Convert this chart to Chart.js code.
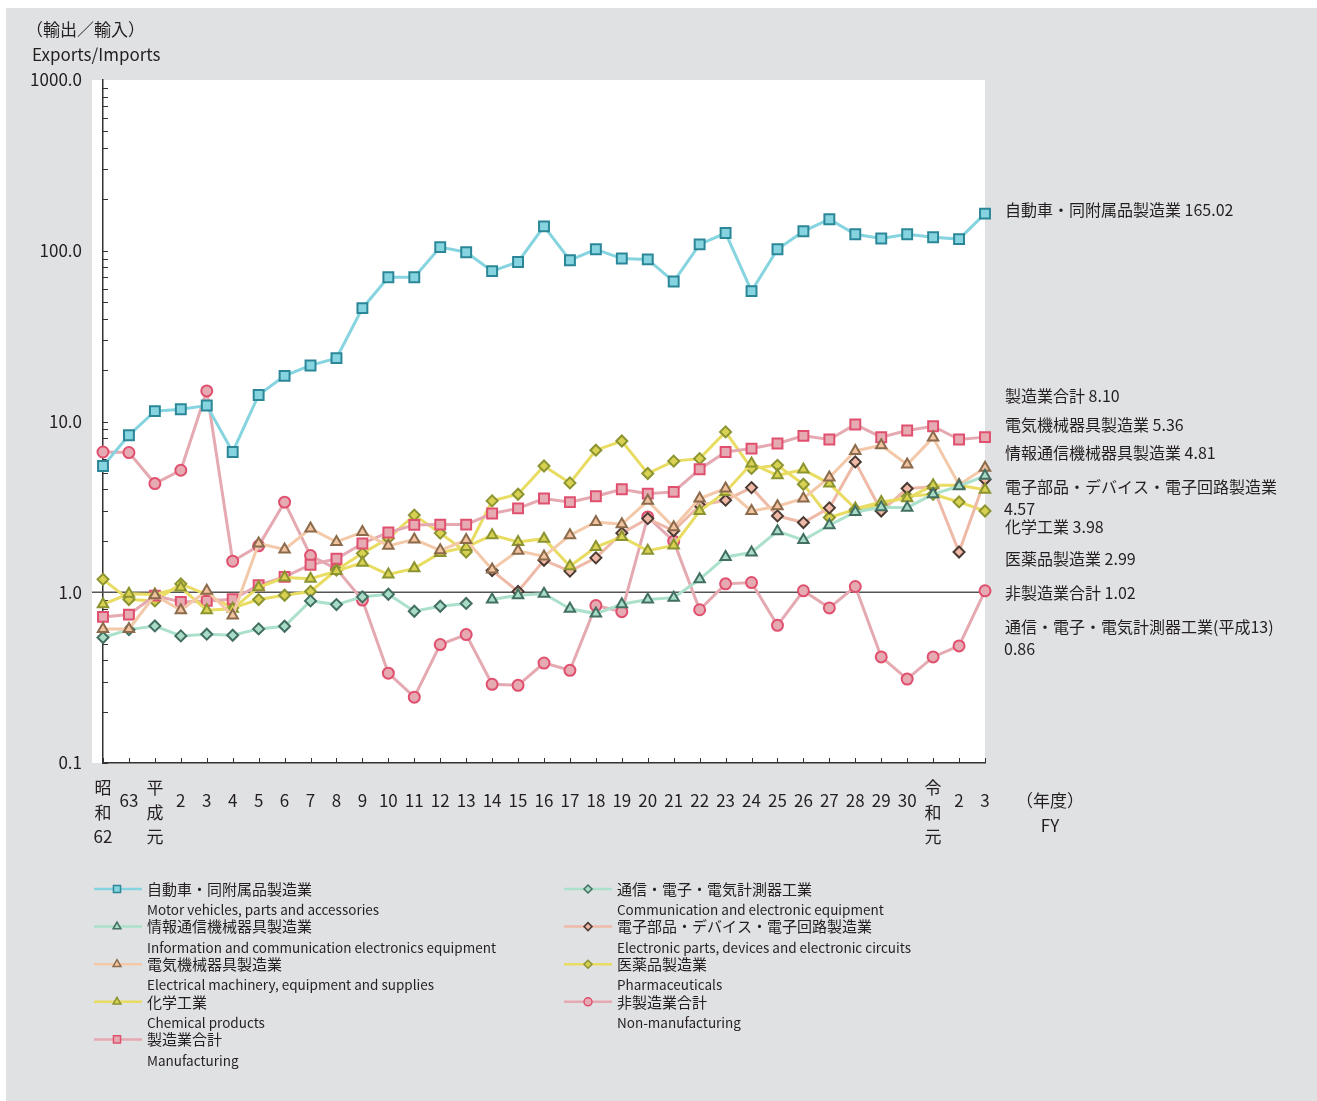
<!DOCTYPE html>
<html lang="ja">
<head>
<meta charset="utf-8">
<title>輸出／輸入 比率の推移</title>
<script src="https://cdn.jsdelivr.net/npm/chart.js@4.4.1/dist/chart.umd.min.js"></script>
<style>
  html, body { margin: 0; padding: 0; background: #fff; }
  #wrap { position: relative; width: 1317px; height: 1101px; }
  canvas { display: block; }
</style>
</head>
<body>
<div id="wrap"><canvas id="c" width="1317" height="1101"></canvas></div>
<script>
// Fiscal years: 昭和62 … 平成30, 令和元 … 令和3
const fiscalYears = [
  ['昭', '和', '62'], ['63', ''], ['平', '成', '元'],
  ['2', ''], ['3', ''], ['4', ''], ['5', ''], ['6', ''], ['7', ''], ['8', ''], ['9', ''],
  ['10', ''], ['11', ''], ['12', ''], ['13', ''], ['14', ''], ['15', ''], ['16', ''],
  ['17', ''], ['18', ''], ['19', ''], ['20', ''], ['21', ''], ['22', ''], ['23', ''],
  ['24', ''], ['25', ''], ['26', ''], ['27', ''], ['28', ''], ['29', ''], ['30', ''],
  ['令', '和', '元'], ['2', ''], ['3', '']
];

// Exports / imports ratio by industry
const motorVehicles = [5.49, 8.31, 11.5, 11.8, 12.4, 6.63, 14.3, 18.5, 21.3, 23.5, 46.1, 70, 70, 105, 98, 76, 86, 139, 88, 102, 90, 89, 66, 109, 127, 58, 102, 130, 153, 125, 118, 125, 120, 117, 165.02];
const commElectronic = [0.543, 0.604, 0.635, 0.555, 0.568, 0.56, 0.61, 0.632, 0.89, 0.847, 0.94, 0.973, 0.774, 0.828, 0.86, null, null, null, null, null, null, null, null, null, null, null, null, null, null, null, null, null, null, null, null];
const infoComm = [null, null, null, null, null, null, null, null, null, null, null, null, null, null, null, 0.906, 0.96, 0.98, 0.80, 0.75, 0.85, 0.906, 0.93, 1.19, 1.61, 1.71, 2.28, 2.02, 2.47, 2.95, 3.15, 3.13, 3.75, 4.18, 4.81];
const electricalMachinery = [0.61, 0.61, 0.96, 0.785, 1.02, 0.73, 1.93, 1.78, 2.36, 1.97, 2.25, 1.87, 2.04, 1.76, 2.02, 1.36, 1.75, 1.62, 2.16, 2.58, 2.50, 3.43, 2.40, 3.54, 4.05, 2.99, 3.19, 3.54, 4.70, 6.72, 7.26, 5.60, 8.05, 4.25, 5.36];
const electronicParts = [null, null, null, null, null, null, null, null, null, null, null, null, null, null, null, 1.34, 1.01, 1.54, 1.33, 1.59, 2.22, 2.70, 2.29, 3.23, 3.46, 4.10, 2.80, 2.56, 3.12, 5.80, 2.99, 4.05, 4.15, 1.72, 4.57];
const chemical = [0.85, 0.98, 0.97, 1.065, 0.785, 0.80, 1.07, 1.22, 1.20, 1.33, 1.49, 1.27, 1.38, 1.70, 1.84, 2.16, 1.97, 2.06, 1.42, 1.84, 2.11, 1.75, 1.88, 2.99, 3.87, 5.67, 4.84, 5.23, 4.33, 3.09, 3.38, 3.55, 4.23, 4.23, 3.98];
const pharmaceuticals = [1.19, 0.906, 0.89, 1.12, 0.97, 0.81, 0.906, 0.96, 1.01, 1.35, 1.69, 2.07, 2.83, 2.22, 1.72, 3.43, 3.75, 5.49, 4.37, 6.79, 7.69, 4.96, 5.86, 6.06, 8.69, 5.31, 5.54, 4.29, 2.74, 3.05, 3.25, 3.65, 3.75, 3.38, 2.99];
const manufacturing = [0.717, 0.74, 0.956, 0.877, 0.89, 0.91, 1.10, 1.23, 1.45, 1.57, 1.93, 2.24, 2.48, 2.49, 2.49, 2.89, 3.10, 3.54, 3.37, 3.65, 4.01, 3.78, 3.87, 5.25, 6.63, 6.94, 7.43, 8.24, 7.84, 9.60, 8.09, 8.85, 9.38, 7.84, 8.10];
const nonManufacturing = [6.63, 6.58, 4.33, 5.18, 15.1, 1.52, 1.87, 3.37, 1.64, 1.37, 0.90, 0.336, 0.243, 0.494, 0.565, 0.289, 0.285, 0.385, 0.349, 0.836, 0.77, 2.76, 1.99, 0.79, 1.12, 1.14, 0.64, 1.02, 0.81, 1.08, 0.418, 0.31, 0.418, 0.485, 1.02];

const yTickValues = [0.1, 1, 10, 100, 1000];

const FONT = '"Noto Sans CJK JP", "Noto Sans", sans-serif';
const INK = '#231f20';

function series(label, en, data, style, line, fill, edge, radius) {
  return {
    label, en, data,
    pointStyle: style,
    borderColor: line,
    backgroundColor: fill,
    pointBackgroundColor: fill,
    pointBorderColor: edge,
    pointBorderWidth: 2,
    pointRadius: radius,
    pointHoverRadius: radius,
    borderWidth: 3,
    tension: 0,
    spanGaps: false,
    fill: false
  };
}

const CYAN = ['#86d4df', '#86d4df', '#2b8798'];
const MINT = ['#abe0cb', '#a9dcc7', '#426f61'];
const PEACH = ['#f3c9aa', '#f1c3a0', '#8b6b4b'];
const YELLOW = ['#e9dc62', '#d9d152', '#8b9431'];
const PINK = ['#e5a9b1', '#e6aab3', '#e0506e'];
const SALMON = ['#efb9a8', '#f0b8a6', '#4a3a32'];

const datasets = [
  series('自動車・同附属品製造業', 'Motor vehicles, parts and accessories', motorVehicles, 'rect', ...CYAN, 7),
  series('情報通信機械器具製造業', 'Information and communication electronics equipment', infoComm, 'triangle', ...MINT, 6),
  series('電気機械器具製造業', 'Electrical machinery, equipment and supplies', electricalMachinery, 'triangle', ...PEACH, 6),
  series('化学工業', 'Chemical products', chemical, 'triangle', ...YELLOW, 6),
  series('製造業合計', 'Manufacturing', manufacturing, 'rect', ...PINK, 7),
  series('通信・電子・電気計測器工業', 'Communication and electronic equipment', commElectronic, 'rectRot', ...MINT, 5.5),
  series('電子部品・デバイス・電子回路製造業', 'Electronic parts, devices and electronic circuits', electronicParts, 'rectRot', ...SALMON, 5.5),
  series('医薬品製造業', 'Pharmaceuticals', pharmaceuticals, 'rectRot', ...YELLOW, 5.5),
  series('非製造業合計', 'Non-manufacturing', nonManufacturing, 'circle', ...PINK, 5.5)
];

// Legend layout: two columns, Japanese name with English caption below
const legendLeft = [0, 1, 2, 3, 4];
const legendRight = [5, 6, 7, 8];

// Labels at the right end of the plot: [dataset index, suffix, value index, y, value on next line]
const endLabels = [
  [0, '', 34, 210, false],
  [4, '', 34, 396, false],
  [2, '', 34, 425, false],
  [1, '', 34, 453, false],
  [6, '', 34, 487, true],
  [3, '', 34, 527, false],
  [7, '', 34, 559, false],
  [8, '', 34, 593, false],
  [5, '(平成13)', 14, 627, true]
];

function marker(ctx, style, x, y, r) {
  ctx.beginPath();
  if (style === 'rect') {
    const s = r * Math.SQRT1_2;
    ctx.rect(x - s, y - s, 2 * s, 2 * s);
  } else if (style === 'triangle') {
    for (let k = 0; k < 3; k++) {
      const a = k * 2 * Math.PI / 3;
      const px = x + Math.sin(a) * r, py = y - Math.cos(a) * r;
      k ? ctx.lineTo(px, py) : ctx.moveTo(px, py);
    }
    ctx.closePath();
  } else if (style === 'rectRot') {
    ctx.moveTo(x - r, y); ctx.lineTo(x, y - r); ctx.lineTo(x + r, y); ctx.lineTo(x, y + r);
    ctx.closePath();
  } else {
    ctx.arc(x, y, r, 0, Math.PI * 2);
  }
  ctx.fill();
  ctx.stroke();
}

const decor = {
  id: 'decor',
  beforeDraw(chart) {
    const { ctx, chartArea: a, width, height } = chart;
    ctx.save();
    ctx.fillStyle = '#ffffff';
    ctx.fillRect(0, 0, width, height);
    ctx.fillStyle = '#e0e1e3';
    ctx.fillRect(6, 8, width - 6, height - 8);
    ctx.fillStyle = '#ffffff';
    ctx.fillRect(a.left - 11, a.top, a.right - a.left + 11, a.bottom - a.top);
    ctx.restore();
  },
  beforeDatasetsDraw(chart) {
    const { ctx, chartArea: a, scales: { x, y } } = chart;
    ctx.save();
    // minor ticks on the log axis, drawn inward
    ctx.strokeStyle = '#333';
    ctx.lineWidth = 1;
    for (let k = -1; k <= 2; k++) {
      for (let m = 1; m <= 9; m++) {
        const py = Math.round(y.getPixelForValue(m * Math.pow(10, k))) + 0.5;
        ctx.beginPath(); ctx.moveTo(a.left, py); ctx.lineTo(a.left + 5, py); ctx.stroke();
      }
    }
    // category ticks along the bottom
    for (let i = 0; i < fiscalYears.length; i++) {
      const px = Math.round(x.getPixelForTick(i)) + 0.5;
      ctx.beginPath(); ctx.moveTo(px, a.bottom); ctx.lineTo(px, a.bottom - 5); ctx.stroke();
    }
    // parity line at ratio 1.0
    const y1 = y.getPixelForValue(1);
    ctx.strokeStyle = '#555';
    ctx.lineWidth = 1.5;
    ctx.beginPath(); ctx.moveTo(a.left - 11, y1); ctx.lineTo(a.right, y1); ctx.stroke();
    ctx.restore();
  },
  afterDraw(chart) {
    const { ctx } = chart;
    const ds = chart.data.datasets;
    ctx.save();
    ctx.fillStyle = INK;
    ctx.textBaseline = 'middle';
    ctx.textAlign = 'left';

    // axis titles
    ctx.font = `17px ${FONT}`;
    ctx.fillText('（輸出／輸入）', 26, 30);
    ctx.fillText('Exports/Imports', 32, 55);
    ctx.textAlign = 'center';
    ctx.fillText('（年度）', 1050, 801);
    ctx.fillText('FY', 1050, 826);

    // series end labels
    ctx.textAlign = 'left';
    ctx.font = `16px ${FONT}`;
    endLabels.forEach(([di, suffix, vi, py, split]) => {
      const v = ds[di].data[vi];
      const val = v.toFixed(2);
      const name = ds[di].label + suffix;
      if (split) {
        ctx.fillText(name, 1005, py);
        ctx.fillText(val, 1004, py + 22);
      } else {
        ctx.fillText(name + ' ' + val, 1005, py);
      }
    });

    // legend
    const drawEntry = (di, lx, mx, tx, py) => {
      const d = ds[di];
      ctx.strokeStyle = d.borderColor;
      ctx.lineWidth = 2.5;
      ctx.beginPath(); ctx.moveTo(lx, py); ctx.lineTo(lx + 48, py); ctx.stroke();
      ctx.fillStyle = d.pointBackgroundColor;
      ctx.strokeStyle = d.pointBorderColor;
      ctx.lineWidth = 1.5;
      const r = d.pointStyle === 'rect' ? 5 : (d.pointStyle === 'triangle' ? 4.5 : 4);
      marker(ctx, d.pointStyle, mx, py, r);
      ctx.fillStyle = INK;
      ctx.font = `15px ${FONT}`;
      ctx.fillText(d.label, tx, py);
      ctx.font = `13.5px ${FONT}`;
      ctx.fillText(d.en, tx, py + 21);
    };
    legendLeft.forEach((di, k) => drawEntry(di, 94, 117, 147, 889 + k * 37.6));
    legendRight.forEach((di, k) => drawEntry(di, 564, 588, 617, 889 + k * 37.6));
    ctx.restore();
  }
};

new Chart(document.getElementById('c'), {
  type: 'line',
  data: { labels: fiscalYears, datasets },
  options: {
    responsive: false,
    animation: false,
    devicePixelRatio: 1,
    layout: { padding: { left: 0, top: 80, right: 332, bottom: 0 } },
    plugins: { legend: { display: false }, tooltip: { enabled: false } },
    scales: {
      x: {
        type: 'category',
        offset: false,
        grid: { display: false, drawTicks: false },
        border: { display: true, color: '#333', width: 1.5 },
        ticks: {
          autoSkip: false,
          maxRotation: 0,
          minRotation: 0,
          padding: 25,
          crossAlign: 'center',
          color: INK,
          font: { family: FONT, size: 17, lineHeight: 1.44 }
        },
        afterFit(scale) { scale.height = 1101 - 763; }
      },
      y: {
        type: 'logarithmic',
        min: 0.1,
        max: 1000,
        grid: { display: false, drawTicks: false },
        border: { display: true, color: '#333', width: 1.5 },
        afterBuildTicks(scale) { scale.ticks = yTickValues.map(v => ({ value: v, major: true })); },
        ticks: {
          padding: 21,
          color: INK,
          font: { family: FONT, size: 17 },
          callback: v => Number(v).toFixed(1)
        },
        afterFit(scale) { scale.width = 103; }
      }
    }
  },
  plugins: [decor]
});
</script>
</body>
</html>
